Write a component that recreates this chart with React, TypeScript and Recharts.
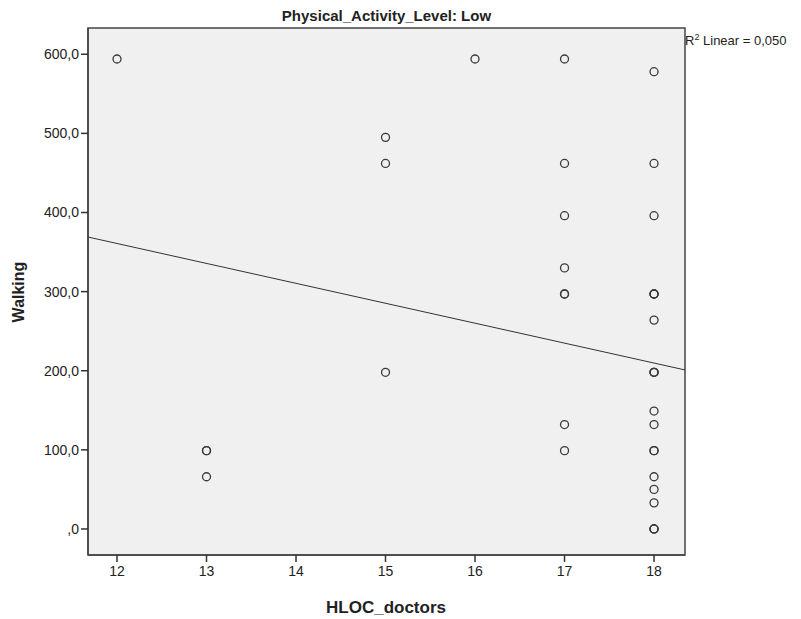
import { ScatterChart, Scatter, XAxis, YAxis, ReferenceArea, ReferenceLine, Label } from 'recharts'

// HLOC_doctors vs Walking, Physical_Activity_Level = Low
const HLOC = [12, 13, 13, 13, 15, 15, 15, 16, 17, 17, 17, 17, 17, 17, 17, 17, 18, 18, 18, 18, 18, 18, 18, 18, 18, 18, 18, 18, 18, 18, 18, 18, 18, 18, 18, 18]
const WALKING = [594, 99, 99, 66, 495, 462, 198, 594, 594, 462, 396, 330, 297, 297, 132, 99, 578, 462, 396, 297, 297, 264, 198, 198, 149, 132, 99, 99, 66, 50, 33, 0, 0, 0, 297, 198]

const X_TICKS = [12, 13, 14, 15, 16, 17, 18]
const Y_TICKS = [0, 100, 200, 300, 400, 500, 600]

const X_DOMAIN = [11.676, 18.346]
const Y_DOMAIN = [-32.9, 633.2]

// fit line endpoints at the plot edges
const FIT_X = [11.676, 18.346]
const FIT_Y = [369, 201]

const points = HLOC.map((x, i) => ({ x, y: WALKING[i] }))

const fmtY = (v: number) => (v === 0 ? ',0' : v.toFixed(1).replace('.', ','))

const FONT = '"Liberation Sans", Arial, sans-serif'

function Ring(props: any) {
  const { cx, cy } = props
  if (cx == null || cy == null) return null
  return <circle cx={cx} cy={cy} r={4} fill="none" stroke="#3a3a3a" strokeWidth={1.3} />
}

export default function App() {
  return (
    <div style={{ position: 'relative', width: 801, height: 619, background: '#fff', fontFamily: FONT }}>
      <style>{`body{margin:0}`}</style>
      <div style={{ position: 'absolute', left: 88, width: 597, top: 7, textAlign: 'center', fontSize: 15, fontWeight: 'bold', color: '#222' }}>
        Physical_Activity_Level: Low
      </div>
      <div style={{ position: 'absolute', left: 685, top: 32, fontSize: 13, color: '#222' }}>
        R<sup style={{ fontSize: 9 }}>2</sup> Linear = 0,050
      </div>
      <ScatterChart width={801} height={619} margin={{ top: 28, right: 116, bottom: 0, left: 0 }}>
        <ReferenceArea
          x1={X_DOMAIN[0]}
          x2={X_DOMAIN[1]}
          y1={Y_DOMAIN[0]}
          y2={Y_DOMAIN[1]}
          fill="#f0f0f0"
          fillOpacity={1}
          stroke="#444"
          strokeWidth={1.5}
          ifOverflow="visible"
        />
        <XAxis
          type="number"
          dataKey="x"
          domain={X_DOMAIN}
          ticks={X_TICKS}
          height={64}
          tickSize={7}
          tickMargin={4}
          axisLine={{ stroke: '#444', strokeWidth: 1.5 }}
          tickLine={{ stroke: '#333', strokeWidth: 1.5 }}
          tick={{ fill: '#222', fontSize: 14, fontFamily: FONT }}
          allowDataOverflow
        >
          <Label
            content={() => (
              <text x={386} y={613} textAnchor="middle" fontSize={17} fontWeight="bold" fill="#222" fontFamily={FONT}>
                HLOC_doctors
              </text>
            )}
          />
        </XAxis>
        <YAxis
          type="number"
          dataKey="y"
          domain={Y_DOMAIN}
          ticks={Y_TICKS}
          width={88}
          tickSize={7}
          tickMargin={2}
          tickFormatter={fmtY}
          axisLine={{ stroke: '#444', strokeWidth: 1.5 }}
          tickLine={{ stroke: '#333', strokeWidth: 1.5 }}
          tick={{ fill: '#222', fontSize: 14, fontFamily: FONT }}
          allowDataOverflow
        >
          <Label
            content={() => (
              <text x={24} y={292} transform="rotate(-90 24 292)" textAnchor="middle" fontSize={16} fontWeight="bold" fill="#222" fontFamily={FONT}>
                Walking
              </text>
            )}
          />
        </YAxis>
        <ReferenceLine
          segment={[{ x: FIT_X[0], y: FIT_Y[0] }, { x: FIT_X[1], y: FIT_Y[1] }]}
          stroke="#333"
          strokeWidth={1}
          ifOverflow="visible"
        />
        <Scatter data={points} shape={<Ring />} isAnimationActive={false} />
      </ScatterChart>
    </div>
  )
}
